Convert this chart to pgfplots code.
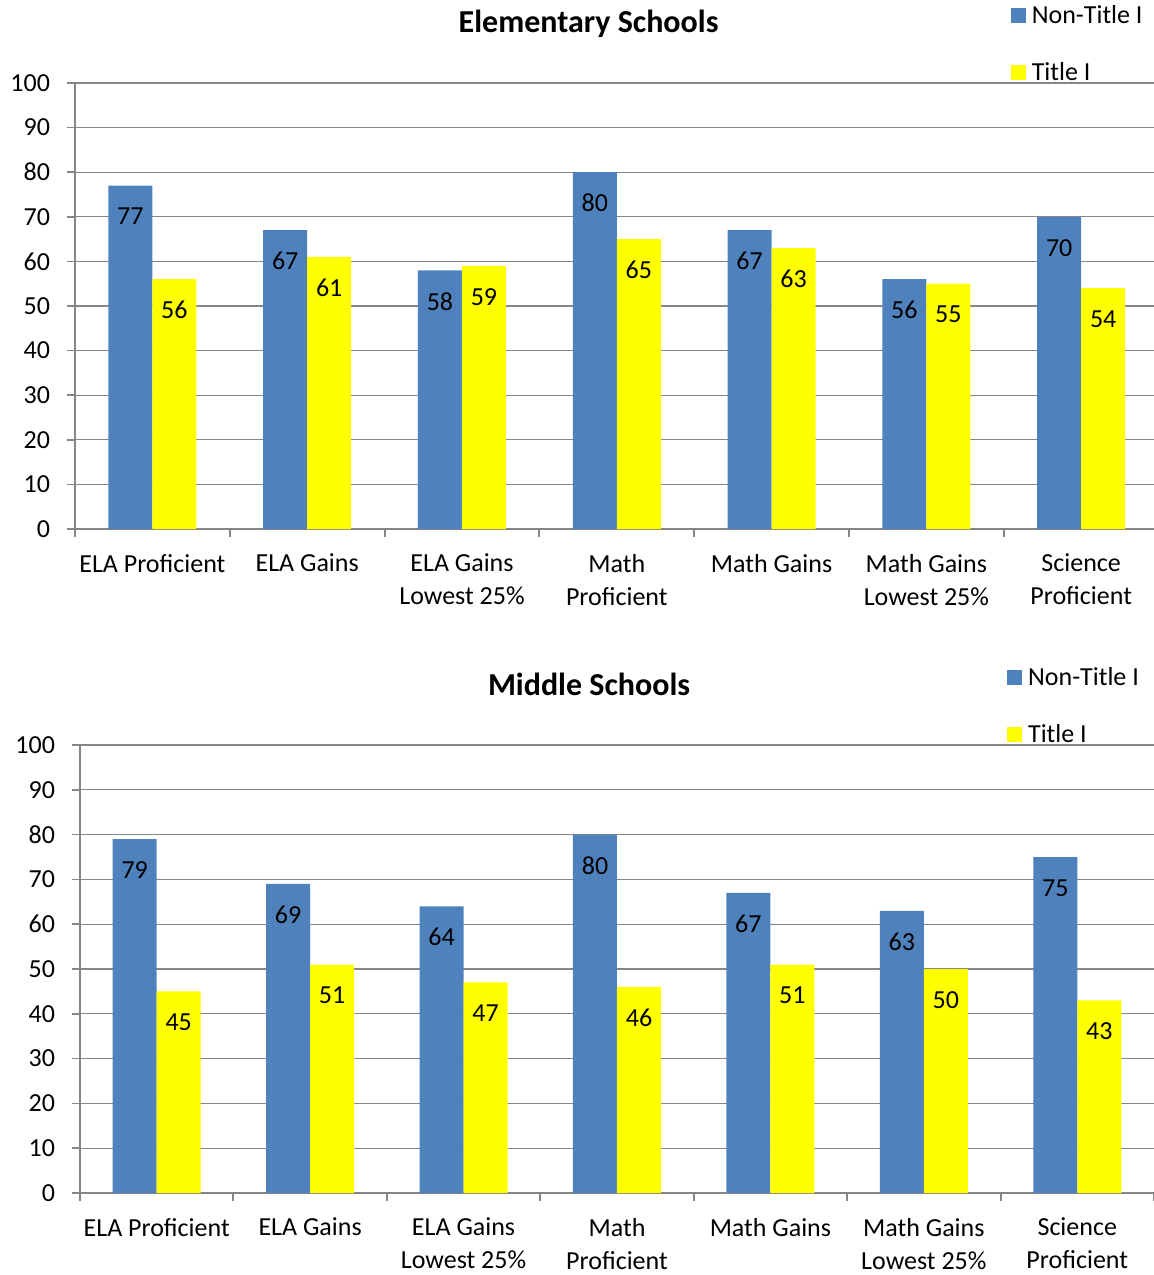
\documentclass[border=0pt]{standalone}
\usepackage{fontspec}
\setmainfont{Carlito}
\usepackage{pgfplots}
\pgfplotsset{compat=1.18}
\definecolor{ntblue}{HTML}{4F81BD}
\definecolor{tyellow}{HTML}{FFFF00}
\definecolor{axgray}{HTML}{868686}
\pgfplotsset{
 schoolchart/.style={
  scale only axis,
  ybar=0pt, bar width=22pt,
  ymin=0, ymax=100, ytick={0,10,...,100},
  xmin=-0.5, xmax=6.5,
  xtick={0,...,6},
  xticklabels={ELA Proficient, ELA Gains, {ELA Gains\\Lowest 25\%}, {Math\\Proficient}, Math Gains, {Math Gains\\Lowest 25\%}, {Science\\Proficient}},
  minor xtick={-0.5,0.5,...,6.5},
  axis x line=bottom, axis y line=left,
  axis line style={axgray, line width=1pt, -},
  ymajorgrids, grid style={axgray, line width=0.6pt},
  tick align=outside, major tick length=4pt, minor tick length=4pt,
  major x tick style={draw=none},
  minor x tick style={axgray, line width=1pt},
  major y tick style={axgray, line width=0.8pt},
  tick label style={font=\fontsize{13}{16.5}\selectfont, text=black},
  xticklabel style={align=center, yshift=-5pt},
  yticklabel style={xshift=-5pt},
  /pgf/number format/assume math mode=true,
  nodes near coords,
  nodes near coords style={font=\fontsize{13}{15}\selectfont, anchor=center, yshift=-15.5pt, text=black},
  title style={font=\fontsize{16}{18}\selectfont\bfseries, anchor=center, yshift=24.5pt},
  legend style={draw=none, fill=none, font=\fontsize{13}{15}\selectfont, row sep=14pt, legend cell align=left, inner sep=0pt, anchor=north west, yshift=41pt,
    nodes={inner xsep=3pt}},
 }
}
\begin{document}
\begin{tikzpicture}
\path[use as bounding box] (-37.5pt,264.5pt) rectangle (539.5pt,-373pt);
\begin{axis}[schoolchart, at={(0pt,0pt)}, anchor=south west,
  width=541.8pt, height=223pt,
  title={Elementary Schools}, title style={at={(0.474,1)}, yshift=-1pt},
  legend style={at={(0.866,1)}, xshift=-1.5pt}]
\addplot[fill=ntblue, draw=none, legend image code/.code={\fill[ntblue] (0pt,-3.75pt) rectangle (7.5pt,3.75pt);}]
  coordinates {(0,77) (1,67) (2,58) (3,80) (4,67) (5,56) (6,70)};
\addplot[fill=tyellow, draw=none, legend image code/.code={\fill[tyellow] (0pt,-3.75pt) rectangle (7.5pt,3.75pt);}]
  coordinates {(0,56) (1,61) (2,59) (3,65) (4,63) (5,55) (6,54)};
\legend{Non-Title I, Title I}
\end{axis}
\begin{axis}[schoolchart, at={(2.5pt,-332pt)}, anchor=south west,
  width=537pt, height=224pt,
  title={Middle Schools}, title style={at={(0.474,1)}},
  legend style={at={(0.861,1)}, xshift=1pt}]
\addplot[fill=ntblue, draw=none, legend image code/.code={\fill[ntblue] (0pt,-3.75pt) rectangle (7.5pt,3.75pt);}]
  coordinates {(0,79) (1,69) (2,64) (3,80) (4,67) (5,63) (6,75)};
\addplot[fill=tyellow, draw=none, legend image code/.code={\fill[tyellow] (0pt,-3.75pt) rectangle (7.5pt,3.75pt);}]
  coordinates {(0,45) (1,51) (2,47) (3,46) (4,51) (5,50) (6,43)};
\legend{Non-Title I, Title I}
\end{axis}
\end{tikzpicture}
\end{document}
